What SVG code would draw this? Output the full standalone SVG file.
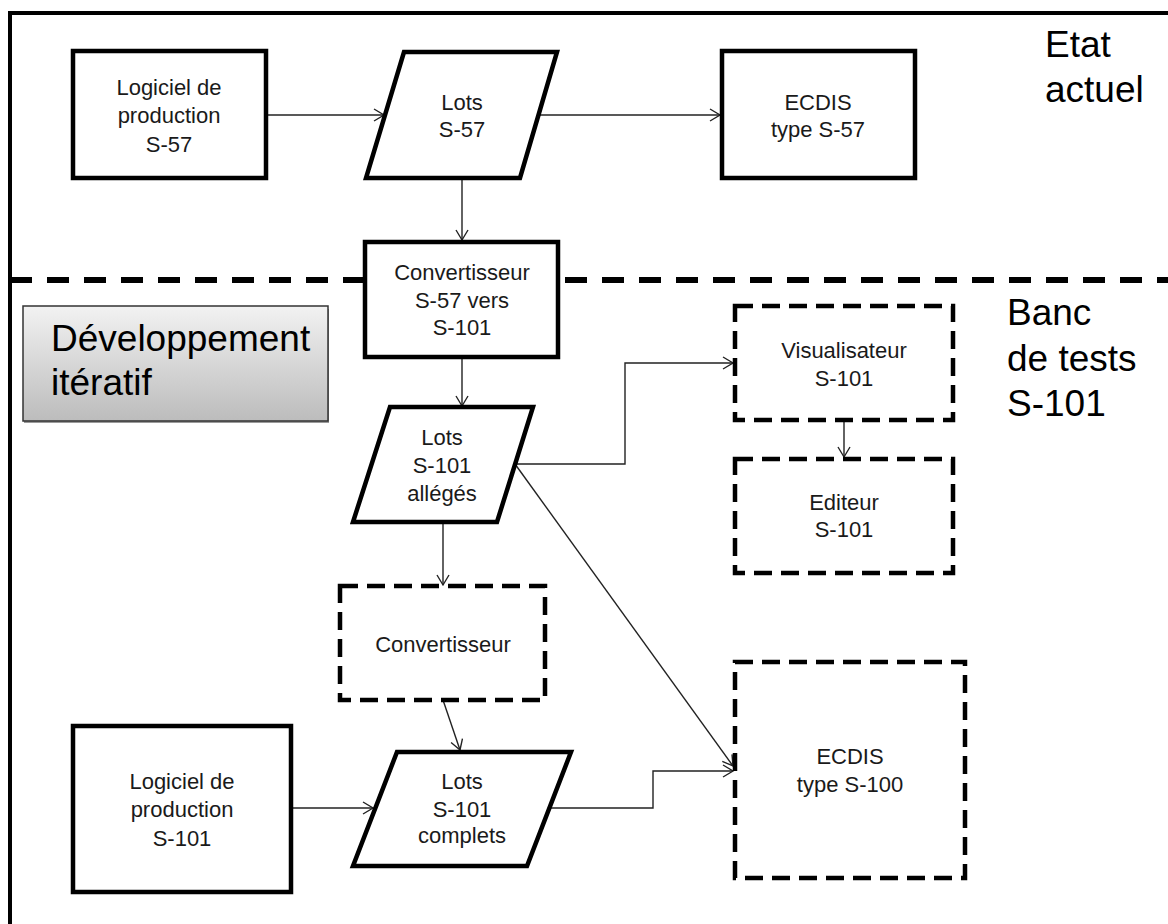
<svg xmlns="http://www.w3.org/2000/svg" width="1168" height="924" viewBox="0 0 1168 924">
<defs>
<marker id="arr" markerWidth="14" markerHeight="14" refX="11" refY="7" orient="auto" markerUnits="userSpaceOnUse">
<path d="M1,1 L11,7 L1,13" fill="none" stroke="#222" stroke-width="1.4"/>
</marker>
<linearGradient id="gray" x1="0" y1="0" x2="0" y2="1">
<stop offset="0" stop-color="#f2f2f2"/>
<stop offset="1" stop-color="#bcbcbc"/>
</linearGradient>
<style>
.solid{fill:#fff;stroke:#000;stroke-width:4.5}
.dash{fill:#fff;stroke:#000;stroke-width:4.5;stroke-dasharray:18 9}
.t{font-family:"Liberation Sans",Arial,sans-serif;font-size:22px;fill:#1a1a1a;text-anchor:middle}
.big{font-family:"Liberation Sans",Arial,sans-serif;font-size:37px;fill:#000}
.c{fill:none;stroke:#222;stroke-width:1.4;marker-end:url(#arr)}
.cl{fill:none;stroke:#222;stroke-width:1.4}
</style>
</defs>
<rect width="1168" height="924" fill="#fff"/>
<rect id="frame" x="10" y="13" width="1200" height="1000" fill="none" stroke="#000" stroke-width="4"/>
<line id="separator" x1="10" y1="280" x2="1168" y2="280" stroke="#000" stroke-width="6" stroke-dasharray="22 15"/>

<g id="labels">
<text class="big" x="1045" y="57">Etat</text>
<text class="big" x="1045" y="102">actuel</text>
<text class="big" x="1007" y="325">Banc</text>
<text class="big" x="1007" y="371">de tests</text>
<text class="big" x="1007" y="416">S-101</text>
</g>

<g id="dev-iteratif">
<rect x="24" y="309" width="305" height="114" fill="#9a9a9a"/>
<rect x="23" y="306" width="305" height="115" fill="url(#gray)" stroke="#333" stroke-width="1.5"/>
<text class="big" x="51" y="351">Développement</text>
<text class="big" x="51" y="395">itératif</text>
</g>

<g id="connectors">
<line class="c" x1="266" y1="115" x2="384" y2="115"/>
<line class="c" x1="538" y1="115" x2="720" y2="115"/>
<line class="c" x1="462" y1="178" x2="462" y2="240"/>
<line class="c" x1="462" y1="357" x2="462" y2="406"/>
<polyline class="c" points="515,464 625,464 625,363 733,363"/>
<line class="c" x1="515" y1="464" x2="733" y2="766"/>
<line class="c" x1="844" y1="420" x2="844" y2="457"/>
<line class="c" x1="443" y1="522" x2="443" y2="585"/>
<line class="c" x1="443" y1="700" x2="460" y2="750"/>
<line class="c" x1="291" y1="808" x2="373" y2="808"/>
<polyline class="c" points="549,808 653,808 653,771 733,771"/>
</g>

<g id="n-logiciel-s57">
<rect class="solid" x="73" y="51" width="193" height="127"/>
<text class="t" x="169" y="95">Logiciel de</text>
<text class="t" x="169" y="123">production</text>
<text class="t" x="169" y="152">S-57</text>
</g>

<g id="n-lots-s57">
<polygon class="solid" points="404,52 557,52 520,178 366,178"/>
<text class="t" x="462" y="110">Lots</text>
<text class="t" x="462" y="137">S-57</text>
</g>

<g id="n-ecdis-s57">
<rect class="solid" x="722" y="51" width="193" height="127"/>
<text class="t" x="818" y="110">ECDIS</text>
<text class="t" x="818" y="137">type S-57</text>
</g>

<g id="n-convertisseur-s57-s101">
<rect class="solid" x="365" y="242" width="193" height="115"/>
<text class="t" x="462" y="280">Convertisseur</text>
<text class="t" x="462" y="308">S-57 vers</text>
<text class="t" x="462" y="335">S-101</text>
</g>

<g id="n-lots-allege">
<polygon class="solid" points="390,407 533,407 497,522 353,522"/>
<text class="t" x="442" y="445">Lots</text>
<text class="t" x="442" y="473">S-101</text>
<text class="t" x="442" y="501">allégés</text>
</g>

<g id="n-visualisateur">
<rect class="dash" x="735" y="306" width="218" height="114"/>
<text class="t" x="844" y="358">Visualisateur</text>
<text class="t" x="844" y="386">S-101</text>
</g>

<g id="n-editeur">
<rect class="dash" x="735" y="459" width="218" height="114"/>
<text class="t" x="844" y="510">Editeur</text>
<text class="t" x="844" y="537">S-101</text>
</g>

<g id="n-convertisseur">
<rect class="dash" x="340" y="586" width="205" height="114"/>
<text class="t" x="443" y="652">Convertisseur</text>
</g>

<g id="n-logiciel-s101">
<rect class="solid" x="73" y="726" width="218" height="166"/>
<text class="t" x="182" y="789">Logiciel de</text>
<text class="t" x="182" y="817">production</text>
<text class="t" x="182" y="846">S-101</text>
</g>

<g id="n-lots-complets">
<polygon class="solid" points="397,752 571,752 527,866 353,866"/>
<text class="t" x="462" y="789">Lots</text>
<text class="t" x="462" y="817">S-101</text>
<text class="t" x="462" y="843">complets</text>
</g>

<g id="n-ecdis-s100">
<rect class="dash" x="735" y="662" width="230" height="216"/>
<text class="t" x="850" y="764">ECDIS</text>
<text class="t" x="850" y="792">type S-100</text>
</g>
</svg>
